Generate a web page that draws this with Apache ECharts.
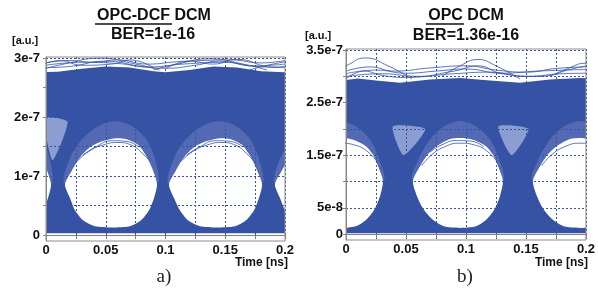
<!DOCTYPE html>
<html><head><meta charset="utf-8">
<script src="https://cdn.jsdelivr.net/npm/echarts@6/dist/echarts.min.js"></script>
<style>html,body{margin:0;padding:0;background:#fff}#c{width:598px;height:289px}</style>
</head><body><div id="c"></div>
<script>
// ---------- axis ticks / labels (values in units of 1e-7 a.u., time in ns) ----------
const ticksX = [0, 0.05, 0.1, 0.15, 0.2];
const labelYA = [0, 1, 2, 3];
const labelYAText = ['0', '1e-7', '2e-7', '3e-7'];
const gridYA = [0, 0.5, 1, 1.5, 2, 2.5, 3];
const labelYB = [0, 0.5, 1.5, 2.5, 3.5];
const labelYBText = ['0', '5e-8', '1.5e-7', '2.5e-7', '3.5e-7'];
const gridYB = [0, 0.5, 1, 1.5, 2, 2.5, 3, 3.5];

// ---------- panel a) OPC-DCF DCM : eye envelope ----------
const railTopA = [[-0.01,2.76],[0.01,2.77],[0.03,2.82],[0.05,2.86],[0.07,2.84],[0.09,2.78],[0.1,2.76],[0.12,2.8],[0.14,2.86],[0.16,2.84],[0.18,2.78],[0.2,2.76],[0.21,2.76]];
const railBottomA = 0.03;
const eyeA0 = [[-0.03,1.62],[-0.0117,1.53],[-0.0042,1.32],[0.0008,1.10],[0.0042,0.86],[0.0017,0.63],[-0.0025,0.42],[-0.0092,0.25],[-0.0184,0.15],[-0.03,0.13]];
const eyeA1 = [[0.0159,0.86],[0.0218,1.10],[0.0285,1.32],[0.0368,1.49],[0.0469,1.59],[0.0569,1.64],[0.0669,1.63],[0.0770,1.53],[0.0845,1.32],[0.0895,1.10],[0.0929,0.86],[0.0904,0.63],[0.0862,0.42],[0.0795,0.25],[0.0703,0.15],[0.0552,0.13],[0.0410,0.15],[0.031,0.25],[0.0243,0.42],[0.0201,0.63]];
const eyeA2 = [[0.1029,0.86],[0.1088,1.10],[0.1155,1.32],[0.1238,1.49],[0.1339,1.59],[0.1439,1.64],[0.1540,1.63],[0.1640,1.53],[0.1715,1.32],[0.1766,1.10],[0.1808,0.86],[0.1782,0.63],[0.1741,0.42],[0.1674,0.25],[0.1582,0.15],[0.1431,0.13],[0.1289,0.15],[0.1188,0.25],[0.1121,0.42],[0.1071,0.63]];
const eyeA3 = [[0.1916,0.86],[0.1975,1.10],[0.2042,1.32],[0.2125,1.49],[0.225,1.6],[0.225,0.13],[0.2125,0.15],[0.2042,0.25],[0.1999,0.42],[0.1958,0.63]];
const hazeA0 = [[-0.03,1.9],[-0.016,1.86],[-0.004,1.65],[0.003,1.3],[0.0042,0.86],[-0.03,0.5]];
const hazeA1 = [[0.0159,0.86],[0.02,1.3],[0.03,1.62],[0.043,1.84],[0.057,1.93],[0.071,1.86],[0.083,1.65],[0.091,1.3],[0.0929,0.86],[0.055,0.5]];
const hazeA2 = [[0.1029,0.86],[0.107,1.3],[0.117,1.62],[0.130,1.84],[0.144,1.93],[0.158,1.86],[0.170,1.65],[0.178,1.3],[0.1808,0.86],[0.142,0.5]];
const hazeA3 = [[0.1916,0.86],[0.196,1.3],[0.206,1.62],[0.219,1.84],[0.225,1.9],[0.225,0.5]];
const pocketA0 = [[-0.001,1.98],[0.018,1.92],[0.0055,1.27]];
const overA = [
  [[-0.005,2.8],[0.015,2.9],[0.045,3.0],[0.075,2.9],[0.095,2.8]],
  [[0.09,2.8],[0.11,2.9],[0.137,2.99],[0.165,2.9],[0.185,2.8]],
  [[0.17,2.8],[0.19,2.9],[0.205,2.95]],
  [[0,2.88],[0.03,2.93],[0.06,2.91],[0.085,2.85],[0.115,2.9],[0.15,2.93],[0.175,2.87],[0.2,2.9]],
  [[0,2.84],[0.02,2.86],[0.05,2.95],[0.08,2.86],[0.1,2.83],[0.125,2.88],[0.145,2.95],[0.17,2.87],[0.2,2.84]],
  [[0,2.92],[0.02,2.96],[0.04,2.93],[0.06,2.97],[0.085,2.9],[0.11,2.94],[0.13,2.96],[0.155,2.97],[0.18,2.92],[0.2,2.96]],
  [[0.1,2.82],[0.12,2.95],[0.14,2.9],[0.16,2.98],[0.19,2.85],[0.2,2.86]],
  [[-0.01,2.83],[0.012,2.96],[0.03,2.88],[0.055,2.9],[0.07,2.97],[0.09,2.84]]
];
const fuzzA = [
  [[0.026,1.25],[0.036,1.42],[0.048,1.53],[0.06,1.57],[0.072,1.52],[0.081,1.38],[0.087,1.25]],
  [[0.031,1.36],[0.042,1.5],[0.055,1.6],[0.067,1.59],[0.078,1.49]],
  [[0.113,1.25],[0.123,1.42],[0.135,1.53],[0.147,1.57],[0.159,1.52],[0.168,1.38],[0.174,1.25]],
  [[0.118,1.36],[0.129,1.5],[0.142,1.6],[0.154,1.59],[0.165,1.49]]
];

// ---------- panel b) OPC DCM : eye envelope ----------
const railTopB = [[-0.01,2.9],[0.01,2.96],[0.025,2.92],[0.045,2.88],[0.07,2.94],[0.095,2.97],[0.12,2.92],[0.145,2.88],[0.17,2.94],[0.195,2.97],[0.21,2.95]];
const railBottomB = 0.02;
const eyeB0 = [[-0.03,1.83],[-0.0133,1.81],[-0.0033,1.83],[0.0067,1.79],[0.0167,1.67],[0.0233,1.48],[0.0275,1.25],[0.0308,1.01],[0.0283,0.72],[0.0242,0.49],[0.0175,0.29],[0.0083,0.15],[-0.005,0.12],[-0.03,0.12]];
const eyeB1 = [[0.0558,1.01],[0.0617,1.29],[0.0683,1.52],[0.0767,1.69],[0.0867,1.81],[0.0967,1.83],[0.1067,1.79],[0.1167,1.67],[0.1233,1.48],[0.1275,1.25],[0.1308,1.01],[0.1283,0.72],[0.1242,0.49],[0.1175,0.29],[0.1083,0.15],[0.095,0.12],[0.0817,0.15],[0.0717,0.29],[0.0642,0.49],[0.0592,0.72]];
const eyeB2 = [[0.1558,1.01],[0.1617,1.29],[0.1683,1.52],[0.1767,1.69],[0.1867,1.81],[0.1967,1.83],[0.2067,1.79],[0.22,1.7],[0.22,0.3],[0.2083,0.15],[0.195,0.12],[0.1817,0.15],[0.1717,0.29],[0.1642,0.49],[0.1592,0.72]];
const hazeB0 = [[-0.03,2.15],[-0.005,2.15],[0.008,2.05],[0.02,1.8],[0.028,1.4],[0.0308,1.01],[-0.03,0.6]];
const hazeB1 = [[0.0558,1.01],[0.06,1.4],[0.07,1.8],[0.082,2.05],[0.095,2.15],[0.108,2.05],[0.12,1.8],[0.128,1.4],[0.1308,1.01],[0.095,0.6]];
const hazeB2 = [[0.1558,1.01],[0.16,1.4],[0.17,1.8],[0.182,2.05],[0.195,2.15],[0.208,2.05],[0.22,1.85],[0.22,0.6]];
const pocketB0 = [[0.039,2.05],[0.066,2.0],[0.048,1.5]];
const pocketB1 = [[0.127,2.05],[0.152,2.0],[0.138,1.5]];
const overB = [
  [[-0.02,3.0],[0,3.2],[0.016,3.35],[0.035,3.2],[0.055,2.95]],
  [[0.08,3.0],[0.095,3.2],[0.11,3.32],[0.125,3.2],[0.145,2.95]],
  [[0.17,3.0],[0.185,3.15],[0.2,3.25],[0.21,3.2]],
  [[0,3.05],[0.025,3.12],[0.05,3.06],[0.075,3.1],[0.1,3.14],[0.13,3.06],[0.16,3.1],[0.2,3.13]],
  [[0,3.0],[0.03,3.05],[0.06,3.0],[0.09,3.05],[0.12,3.08],[0.15,3.0],[0.18,3.05],[0.2,3.06]],
  [[0,3.1],[0.02,3.18],[0.04,3.1],[0.07,3.16],[0.1,3.2],[0.125,3.12],[0.15,3.08],[0.175,3.15],[0.2,3.18]],
  [[0.0,2.95],[0.015,3.1],[0.03,3.02],[0.05,2.98],[0.09,3.1],[0.11,3.2],[0.13,3.05],[0.16,3.0],[0.19,3.15],[0.2,3.2]]
];
const fuzzB = [
  [[-0.037,1.3],[-0.029,1.5],[-0.018,1.66],[-0.005,1.73],[0.008,1.69],[0.018,1.57],[0.025,1.4]],
  [[0.063,1.3],[0.071,1.5],[0.082,1.66],[0.095,1.73],[0.108,1.69],[0.118,1.57],[0.125,1.4]],
  [[0.07,1.56],[0.08,1.7],[0.092,1.78],[0.104,1.77],[0.115,1.66]],
  [[0.163,1.3],[0.171,1.5],[0.182,1.66],[0.195,1.73],[0.208,1.69],[0.218,1.57],[0.225,1.4]]
];

// ---------- styling ----------
const BLUE = '#3552a4';
const HAZE = '#5469b3';
const POCKET = '#8c9dd2';
const FONT = 'Liberation Sans, Arial, sans-serif';

function polySeries(gi, shapes, color, smooth, z) {
  return {
    type: 'custom', xAxisIndex: gi, yAxisIndex: gi, z: z, silent: true,
    data: shapes.map(s => [s[0][0], s[0][1]]),
    renderItem: function (params, api) {
      const pts = shapes[params.dataIndex].map(p => api.coord(p));
      const cs = params.coordSys;
      return {
        type: 'group',
        clipPath: { type: 'rect', shape: { x: cs.x, y: cs.y, width: cs.width, height: cs.height } },
        children: [{ type: 'polygon', shape: { points: pts, smooth: smooth }, style: { fill: color } }]
      };
    }
  };
}
function traceSeries(gi, pts) {
  return { type: 'line', xAxisIndex: gi, yAxisIndex: gi, z: 5, data: pts, smooth: true, showSymbol: false,
    silent: true, clip: true, lineStyle: { color: BLUE, width: 0.8 } };
}
function gridLines(gi, vals) {
  return { type: 'line', xAxisIndex: gi, yAxisIndex: gi, z: 6, data: [], silent: true,
    markLine: { silent: true, symbol: 'none', label: { show: false }, animation: false,
      lineStyle: { color: BLUE, type: [2, 2], width: 1 }, data: vals.map(v => ({ yAxis: v })) } };
}
function xAxisCfg(gi) {
  return { gridIndex: gi, type: 'value', min: 0, max: 0.2, interval: 0.025, z: 6,
    axisLine: { show: true, lineStyle: { color: '#808080', width: 1 } },
    axisTick: { show: true, length: 4, lineStyle: { color: '#808080' } },
    splitLine: { show: true, lineStyle: { color: BLUE, type: [2, 2], width: 1 } },
    axisLabel: { margin: 3, fontFamily: FONT, fontWeight: 'bold', fontSize: 13, color: '#111',
      formatter: v => { const i = ticksX.findIndex(t => Math.abs(t - v) < 1e-9); return i >= 0 ? String(ticksX[i]) : ''; } } };
}
function yAxisCfg(gi, min, max, labVals, labText, gridVals, margin) {
  return { gridIndex: gi, type: 'value', min: min, max: max, z: 6,
    axisLine: { show: true, lineStyle: { color: '#808080', width: 1 } },
    axisTick: { show: true, length: 3, customValues: gridVals, lineStyle: { color: '#808080' } },
    splitLine: { show: false },
    axisLabel: { margin: margin, customValues: labVals, fontFamily: FONT, fontWeight: 'bold', fontSize: 13, color: '#111',
      formatter: v => { const i = labVals.findIndex(t => Math.abs(t - v) < 1e-9); return i >= 0 ? labText[i] : ''; } } };
}

const bodyA = [...railTopA, [0.21, railBottomA], [-0.01, railBottomA]];
const bodyB = [...railTopB, [0.21, railBottomB], [-0.01, railBottomB]];

const chart = echarts.init(document.getElementById('c'), null, { renderer: 'canvas' });
chart.setOption({
  animation: false,
  backgroundColor: '#fff',
  grid: [
    { left: 46, top: 57, width: 239, height: 184, show: true, z: 7, backgroundColor: 'transparent', borderColor: '#8c8c8c', borderWidth: 1 },
    { left: 346, top: 49, width: 241, height: 191, show: true, z: 7, backgroundColor: 'transparent', borderColor: '#8c8c8c', borderWidth: 1 }
  ],
  xAxis: [xAxisCfg(0), xAxisCfg(1)],
  yAxis: [
    yAxisCfg(0, -0.1, 3.02, labelYA, labelYAText, gridYA, 6),
    yAxisCfg(1, -0.11, 3.52, labelYB, labelYBText, gridYB, 3)
  ],
  series: [
    polySeries(0, [bodyA], BLUE, 0, 2),
    polySeries(0, [hazeA0, hazeA1, hazeA2, hazeA3], HAZE, 0.3, 3),
    polySeries(0, [pocketA0], POCKET, 0.2, 3),
    polySeries(0, [eyeA0, eyeA1, eyeA2, eyeA3], '#ffffff', 0.25, 4),
    ...overA.map(p => traceSeries(0, p)),
    ...fuzzA.map(p => traceSeries(0, p)),
    gridLines(0, gridYA),
    polySeries(1, [bodyB], BLUE, 0, 2),
    polySeries(1, [hazeB0, hazeB1, hazeB2], HAZE, 0.3, 3),
    polySeries(1, [pocketB0, pocketB1], POCKET, 0.2, 3),
    polySeries(1, [eyeB0, eyeB1, eyeB2], '#ffffff', 0.25, 4),
    ...overB.map(p => traceSeries(1, p)),
    ...fuzzB.map(p => traceSeries(1, p)),
    gridLines(1, gridYB)
  ],
  graphic: [
    { type: 'text', x: 154, y: 16, style: { text: 'OPC-DCF DCM', font: 'bold 16px ' + FONT, fill: '#111', align: 'center', verticalAlign: 'middle' } },
    { type: 'line', shape: { x1: 95, y1: 24, x2: 172, y2: 24 }, style: { stroke: '#111', lineWidth: 1.5 } },
    { type: 'text', x: 153, y: 35, style: { text: 'BER=1e-16', font: 'bold 16px ' + FONT, fill: '#111', align: 'center', verticalAlign: 'middle' } },
    { type: 'text', x: 466, y: 16, style: { text: 'OPC DCM', font: 'bold 16px ' + FONT, fill: '#111', align: 'center', verticalAlign: 'middle' } },
    { type: 'line', shape: { x1: 426, y1: 24, x2: 464, y2: 24 }, style: { stroke: '#111', lineWidth: 1.5 } },
    { type: 'text', x: 466, y: 36, style: { text: 'BER=1.36e-16', font: 'bold 16px ' + FONT, fill: '#111', align: 'center', verticalAlign: 'middle' } },
    { type: 'text', x: 12, y: 41, style: { text: '[a.u.]', font: 'bold 11px ' + FONT, fill: '#111', align: 'left', verticalAlign: 'middle' } },
    { type: 'text', x: 305, y: 36, style: { text: '[a.u.]', font: 'bold 11px ' + FONT, fill: '#111', align: 'left', verticalAlign: 'middle' } },
    { type: 'text', x: 288, y: 263, style: { text: 'Time [ns]', font: 'bold 12px ' + FONT, fill: '#111', align: 'right', verticalAlign: 'middle' } },
    { type: 'text', x: 588, y: 263, style: { text: 'Time [ns]', font: 'bold 12px ' + FONT, fill: '#111', align: 'right', verticalAlign: 'middle' } },
    { type: 'text', x: 164, y: 277, style: { text: 'a)', font: '19px Liberation Serif, Times New Roman, serif', fill: '#222', align: 'center', verticalAlign: 'middle' } },
    { type: 'text', x: 465, y: 277, style: { text: 'b)', font: '19px Liberation Serif, Times New Roman, serif', fill: '#222', align: 'center', verticalAlign: 'middle' } }
  ]
});
</script>
</body></html>
